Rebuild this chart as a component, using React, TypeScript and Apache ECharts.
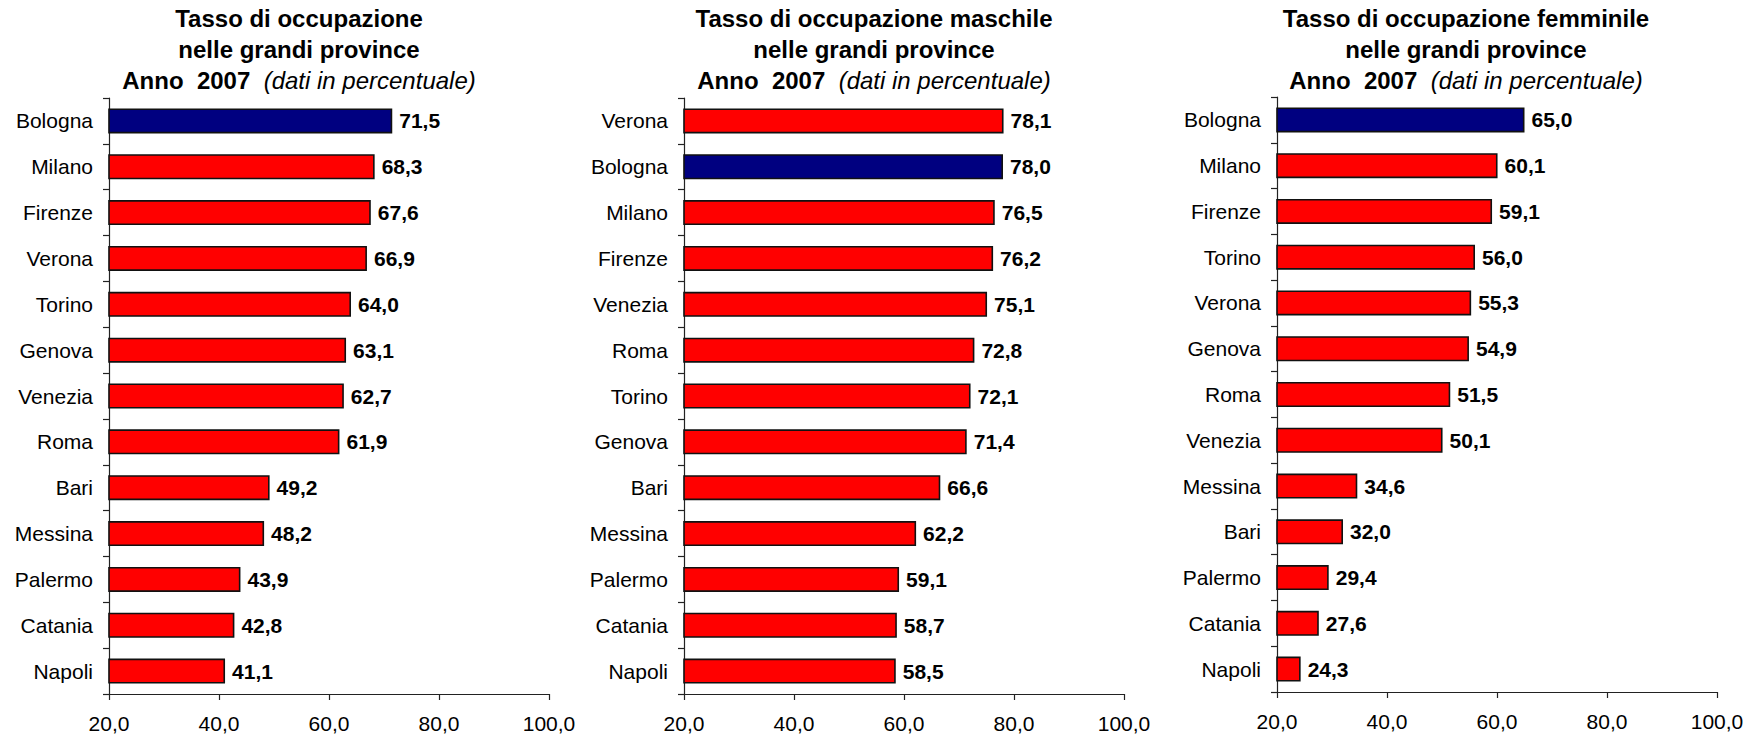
import React, { useEffect, useRef } from "react";
import * as echarts from "echarts";

const cats1 = ["Bologna", "Milano", "Firenze", "Verona", "Torino", "Genova", "Venezia", "Roma", "Bari", "Messina", "Palermo", "Catania", "Napoli"];
const vals1 = [71.5, 68.3, 67.6, 66.9, 64.0, 63.1, 62.7, 61.9, 49.2, 48.2, 43.9, 42.8, 41.1];

const cats2 = ["Verona", "Bologna", "Milano", "Firenze", "Venezia", "Roma", "Torino", "Genova", "Bari", "Messina", "Palermo", "Catania", "Napoli"];
const vals2 = [78.1, 78.0, 76.5, 76.2, 75.1, 72.8, 72.1, 71.4, 66.6, 62.2, 59.1, 58.7, 58.5];

const cats3 = ["Bologna", "Milano", "Firenze", "Torino", "Verona", "Genova", "Roma", "Venezia", "Messina", "Bari", "Palermo", "Catania", "Napoli"];
const vals3 = [65.0, 60.1, 59.1, 56.0, 55.3, 54.9, 51.5, 50.1, 34.6, 32.0, 29.4, 27.6, 24.3];

const titles = [
  ["Tasso di occupazione", "nelle grandi province"],
  ["Tasso di occupazione maschile", "nelle grandi province"],
  ["Tasso di occupazione femminile", "nelle grandi province"],
];
const subtitleBold = "Anno  2007";
const subtitleItalic = "(dati in percentuale)";

const axisMin = 20;
const axisMax = 100;
const axisStep = 20;

const FONT = "'Liberation Sans', Arial, Helvetica, sans-serif";

const fmt = (v: number) => v.toFixed(1).replace(".", ",");

export default function App() {
  const ref = useRef<HTMLDivElement>(null);

  useEffect(() => {
    document.body.style.margin = "0";
    if (!ref.current) return;
    const chart = echarts.init(ref.current, undefined, { renderer: "svg" });

    const grids = [
      { left: 109, top: 98, width: 440, height: 596 },
      { left: 684, top: 98, width: 440, height: 596 },
      { left: 1277, top: 97, width: 440, height: 595 },
    ];
    const titleCenters = [299, 874, 1466];
    const catsList = [cats1, cats2, cats3];
    const valsList = [vals1, vals2, vals3];

    const option: any = {
      animation: false,
      backgroundColor: "#ffffff",
      title: titles.map((t, i) => ({
        text: `{b|${t[0]}}\n{b|${t[1]}}\n{b|${subtitleBold}}{i|  ${subtitleItalic}}`,
        left: titleCenters[i],
        top: 3,
        textAlign: "center",
        padding: 0,
        textStyle: {
          rich: {
            b: { fontFamily: FONT, fontSize: 24, fontWeight: "bold", color: "#000", lineHeight: 31 },
            i: { fontFamily: FONT, fontSize: 24, fontStyle: "italic", fontWeight: "normal", color: "#000", lineHeight: 31 },
          },
        },
      })),
      grid: grids.map((g) => ({ ...g, containLabel: false })),
      xAxis: grids.map((_, i) => ({
        type: "value",
        gridIndex: i,
        min: axisMin,
        max: axisMax,
        interval: axisStep,
        splitLine: { show: false },
        axisLine: { show: true, lineStyle: { color: "#222", width: 1.2 } },
        axisTick: { show: true, length: 6, lineStyle: { color: "#222", width: 1.2 } },
        axisLabel: {
          formatter: (v: number) => fmt(v),
          fontFamily: FONT,
          fontSize: 21,
          color: "#000",
          margin: 19,
        },
      })),
      yAxis: grids.map((_, i) => ({
        type: "category",
        gridIndex: i,
        data: catsList[i],
        inverse: true,
        axisLine: { show: true, lineStyle: { color: "#222", width: 1.2 } },
        axisTick: { show: true, length: 6, alignWithLabel: false, lineStyle: { color: "#222", width: 1.2 } },
        axisLabel: {
          fontFamily: FONT,
          fontSize: 21,
          color: "#000",
          margin: 16,
        },
      })),
      series: grids.map((_, i) => ({
        type: "bar",
        xAxisIndex: i,
        yAxisIndex: i,
        barWidth: 25,
        data: valsList[i].map((v, k) => ({
          value: v,
          itemStyle: {
            color: catsList[i][k] === "Bologna" ? "#000080" : "#ff0000",
          },
        })),
        itemStyle: { borderColor: "#111", borderWidth: 1.6 },
        label: {
          show: true,
          position: "right",
          distance: 7,
          formatter: (p: any) => fmt(p.value),
          fontFamily: FONT,
          fontSize: 21,
          fontWeight: "bold",
          color: "#000",
        },
      })),
    };

    chart.setOption(option);
    return () => chart.dispose();
  }, []);

  return <div ref={ref} style={{ width: 1757, height: 736 }} />;
}
